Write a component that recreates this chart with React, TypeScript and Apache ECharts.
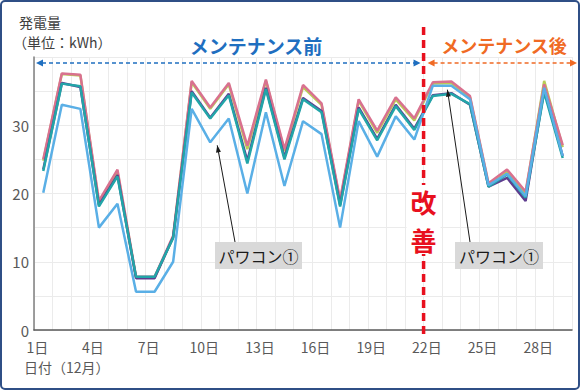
import React, { useEffect, useRef } from 'react';
import * as echarts from 'echarts';

const days = ['1日','2日','3日','4日','5日','6日','7日','8日','9日','10日','11日','12日','13日','14日','15日','16日','17日','18日','19日','20日','21日','22日','23日','24日','25日','26日','27日','28日','29日'];
const yTicks = [0, 10, 20, 30];

const pwc5 = [25.0,37.6,37.4,18.9,23.5,7.8,7.8,13.8,36.5,32.6,36.2,27.0,36.7,26.5,35.9,33.2,19.1,33.8,29.2,34.1,31.0,36.3,36.4,34.3,21.5,23.5,20.3,36.0,27.1];
const pwc4 = [24.8,37.5,37.3,18.6,23.2,7.7,7.7,13.6,36.3,32.4,36.0,26.5,36.5,26.2,35.6,33.0,18.8,33.6,28.9,33.8,30.7,36.1,36.2,34.1,21.3,23.2,20.0,36.5,26.8];
const pwc3 = [23.5,36.2,35.6,18.3,22.7,7.6,7.6,13.6,35.0,31.1,34.6,24.8,35.5,25.3,34.0,32.1,18.3,32.6,28.0,33.0,29.5,34.4,34.7,33.0,21.0,22.3,18.9,35.2,25.5];
const pwc2 = [23.3,36.1,35.7,18.1,22.5,7.8,7.8,13.5,34.8,31.0,34.4,24.4,35.3,25.0,33.8,31.9,18.1,32.4,27.8,32.8,29.3,34.3,34.6,33.1,21.0,22.8,19.4,34.8,25.2];
const pwc1 = [20.1,33.0,32.4,15.0,18.5,5.6,5.6,10.0,32.4,27.5,31.0,20.0,31.9,21.1,30.6,28.7,15.0,30.6,25.4,31.3,27.9,35.8,35.8,33.8,21.2,22.9,19.6,35.5,25.5];

const seriesDefs = [
  { name: 'パワコン④', data: pwc4, color: '#b9cc55' },
  { name: 'パワコン⑤', data: pwc5, color: '#d9718f' },
  { name: 'パワコン③', data: pwc3, color: '#5e3d8f' },
  { name: 'パワコン②', data: pwc2, color: '#22a5a8' },
  { name: 'パワコン①', data: pwc1, color: '#5aafe6' },
];

const FONT = '"Noto Sans CJK JP", "Noto Sans", sans-serif';

export default function App() {
  const ref = useRef<HTMLDivElement>(null);
  useEffect(() => {
    const chart = echarts.init(ref.current!, null, { renderer: 'svg' });
    chart.setOption({
      animation: false,
      backgroundColor: '#fff',
      grid: { left: 34, right: 8, top: 57, bottom: 60 },
      xAxis: {
        type: 'category',
        data: days,
        boundaryGap: true,
        axisLine: { lineStyle: { color: '#595959', width: 1.5 } },
        axisTick: { show: false },
        axisLabel: {
          interval: 2,
          color: '#595959',
          fontSize: 14,
          fontFamily: FONT,
          margin: 10,
          padding: [0, 12, 0, 0],
        },
        splitLine: { show: true, interval: 0, lineStyle: { color: '#ebebeb', width: 1 } },
      },
      yAxis: {
        type: 'value',
        min: 0,
        max: 40,
        interval: 5,
        axisLine: { show: true, lineStyle: { color: '#7f7f7f', width: 1.5 } },
        axisTick: { show: false },
        axisLabel: {
          color: '#595959',
          fontSize: 15,
          fontFamily: FONT,
          margin: 5,
          formatter: (v: number) => (yTicks.indexOf(v) >= 0 ? String(v) : ''),
        },
        splitLine: { show: true, lineStyle: { color: '#ebebeb', width: 1 } },
      },
      series: seriesDefs.map((s) => ({
        type: 'line',
        name: s.name,
        data: s.data,
        symbol: 'none',
        lineStyle: { color: s.color, width: 2.5 },
        itemStyle: { color: s.color },
      })),
    });

    const px = (i: number, v: number) => chart.convertToPixel({ gridIndex: 0 }, [i, v]) as number[];
    const redX = (px(20, 0)[0] + px(21, 0)[0]) / 2;
    const axisY = px(0, 0)[1];
    const leftX = px(0, 0)[0] - (px(1, 0)[0] - px(0, 0)[0]) / 2;

    const arrowHead = (tx: number, ty: number, fx: number, fy: number, color: string, len: number, half: number) => {
      const dx = tx - fx, dy = ty - fy;
      const d = Math.sqrt(dx * dx + dy * dy) || 1;
      const ux = dx / d, uy = dy / d;
      const bx = tx - ux * len, by = ty - uy * len;
      return {
        type: 'polygon',
        shape: { points: [[tx, ty], [bx - uy * half, by + ux * half], [bx + uy * half, by - ux * half]] },
        style: { fill: color },
        z: 100,
      };
    };

    const text = (t: string, x: number, y: number, size: number, color: string, weight = 'normal', align = 'center') => ({
      type: 'text',
      z: 110,
      style: {
        text: t, x, y, fill: color,
        font: `${weight} ${size}px ${FONT}`,
        fontSize: size, fontWeight: weight, fontFamily: FONT,
        align, verticalAlign: 'middle', textAlign: align, textVerticalAlign: 'middle',
      },
    });

    const leader = (pi: number, series: number[], ox: number, oy: number, bx: number, by: number) => {
      const p = px(pi, series[pi]);
      const tx = p[0] + ox, ty = p[1] + oy;
      return [
        { type: 'line', shape: { x1: bx, y1: by, x2: tx, y2: ty }, style: { stroke: '#1a1a1a', lineWidth: 1 }, z: 100 },
        arrowHead(tx, ty, bx, by, '#1a1a1a', 7, 2.5),
      ];
    };

    const arrowY = 63;
    const blueC = '#1f6fc0';
    const orangeC = '#f06a24';

    chart.setOption({
      graphic: [
        { type: 'rect', shape: { x: 1, y: 1, width: 578, height: 388, r: 4 }, style: { fill: 'none', stroke: '#2f4f86', lineWidth: 2 }, z: 120 },
        text('発電量', 19, 22, 14, '#404040', 'normal', 'left'),
        text('（単位：kWh）', 13, 42, 14, '#404040', 'normal', 'left'),
        text('日付（12月）', 24, 367, 14, '#595959', 'normal', 'left'),
        text('メンテナンス前', 256, 45, 19, blueC, 'bold'),
        text('メンテナンス後', 504, 45, 18, orangeC, 'bold'),
        // blue double arrow
        { type: 'line', shape: { x1: leftX + 8, y1: arrowY, x2: redX - 8, y2: arrowY }, style: { stroke: blueC, lineWidth: 1.5, lineDash: [4, 3] }, z: 100 },
        arrowHead(leftX + 2, arrowY, leftX + 12, arrowY, blueC, 7, 3.5),
        arrowHead(redX - 3, arrowY, redX - 13, arrowY, blueC, 7, 3.5),
        // orange double arrow
        { type: 'line', shape: { x1: redX + 10, y1: arrowY, x2: 571, y2: arrowY }, style: { stroke: orangeC, lineWidth: 1.5, lineDash: [4, 3] }, z: 100 },
        arrowHead(redX + 4, arrowY, redX + 14, arrowY, orangeC, 7, 3.5),
        arrowHead(577, arrowY, 567, arrowY, orangeC, 7, 3.5),
        // red dashed vertical
        { type: 'line', shape: { x1: redX, y1: 27, x2: redX, y2: axisY + 5 }, style: { stroke: '#e8101e', lineWidth: 3.5, lineDash: [8, 5] }, z: 101 },
        { type: 'rect', shape: { x: redX - 17, y: 185, width: 34, height: 69 }, style: { fill: '#fff' }, z: 102 },
        text('改', redX, 201, 26, '#e8101e', 'bold'),
        text('善', redX, 239, 26, '#e8101e', 'bold'),
        // callouts
        ...leader(9, pwc1, 7, 3, 235, 242),
        { type: 'rect', shape: { x: 215, y: 242, width: 87, height: 27 }, style: { fill: '#d9d9d9' }, z: 104 },
        text('パワコン①', 258.5, 256, 16, '#1a1a1a'),
        ...leader(22, pwc1, -4, 4, 470, 242),
        { type: 'rect', shape: { x: 455, y: 242, width: 88, height: 27 }, style: { fill: '#d9d9d9' }, z: 104 },
        text('パワコン①', 499, 256, 16, '#1a1a1a'),
      ],
    });
    return () => chart.dispose();
  }, []);
  return <div ref={ref} style={{ position: 'fixed', left: 0, top: 0, width: 580, height: 390, background: '#fff' }} />;
}
